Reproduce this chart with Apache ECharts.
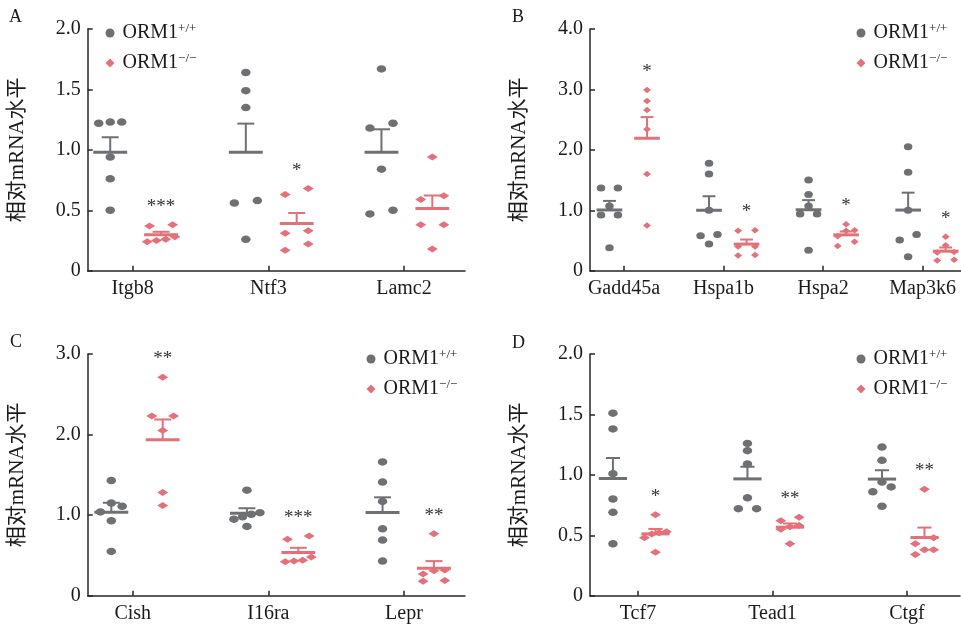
<!DOCTYPE html>
<html>
<head>
<meta charset="utf-8">
<script src="https://cdn.jsdelivr.net/npm/echarts@6/dist/echarts.min.js"></script>
<style>
html, body { margin: 0; padding: 0; background: #fff; }
#main { width: 961px; height: 628px; }
</style>
</head>
<body>
<div id="main"></div>
<script>
// 各基因的相对 mRNA 水平（每组 6 只小鼠）
var genesA = ['Itgb8', 'Ntf3', 'Lamc2'];
var wtA = [[1.23, 1.22, 1.23, 0.94, 0.76, 0.50], [1.64, 1.49, 1.35, 0.58, 0.56, 0.26], [1.67, 1.22, 1.18, 0.84, 0.47, 0.50]];
var koA = [[0.38, 0.37, 0.28, 0.26, 0.25, 0.24], [0.68, 0.63, 0.33, 0.31, 0.22, 0.17], [0.94, 0.62, 0.59, 0.38, 0.38, 0.18]];
var sigA = ['***', '*', ''];

var genesB = ['Gadd45a', 'Hspa1b', 'Hspa2', 'Map3k6'];
var wtB = [[1.37, 1.37, 1.07, 0.92, 0.92, 0.38], [1.78, 1.60, 1.00, 0.60, 0.58, 0.44], [1.50, 1.26, 1.07, 0.94, 0.94, 0.34], [2.05, 1.63, 1.00, 0.60, 0.51, 0.23]];
var koB = [[2.99, 2.81, 2.66, 2.34, 1.60, 0.75], [0.67, 0.66, 0.40, 0.40, 0.26, 0.25], [0.77, 0.67, 0.66, 0.57, 0.48, 0.41], [0.56, 0.42, 0.31, 0.30, 0.18, 0.17]];
var sigB = ['*', '*', '*', '*'];

var genesC = ['Cish', 'I16ra', 'Lepr'];
var wtC = [[1.43, 1.15, 1.11, 1.04, 0.93, 0.55], [1.31, 1.03, 1.01, 0.98, 0.95, 0.86], [1.66, 1.41, 1.17, 0.83, 0.69, 0.43]];
var koC = [[2.71, 2.23, 2.23, 2.05, 1.28, 1.12], [0.74, 0.70, 0.48, 0.44, 0.43, 0.42], [0.77, 0.32, 0.31, 0.27, 0.19, 0.18]];
var sigC = ['**', '***', '**'];

var genesD = ['Tcf7', 'Tead1', 'Ctgf'];
var wtD = [[1.51, 1.38, 1.01, 0.80, 0.69, 0.43], [1.26, 1.20, 1.09, 0.81, 0.72, 0.72], [1.23, 1.12, 0.94, 0.90, 0.86, 0.74]];
var koD = [[0.67, 0.53, 0.52, 0.51, 0.48, 0.36], [0.65, 0.62, 0.58, 0.57, 0.55, 0.43], [0.88, 0.48, 0.43, 0.38, 0.38, 0.34]];
var sigD = ['*', '**', '**'];

var GRAY = '#6f7073';
var RED = '#e4717a';
var AX = '#262626';
var TXT = '#1a1a1a';
var SERIF = "'Liberation Serif', 'Times New Roman', serif";
var SERIF_CJK = "'Liberation Serif', 'Noto Sans CJK SC', serif";

// 版面设置（与数据分开）
var panels = [
	{ letter: 'A', genes: genesA, wt: wtA, ko: koA, sig: sigA, left: 87.7, top: 29, width: 377.3, height: 241.7,
		xMin: 0.668, xMax: 3.45, yMax: 2, yInt: 0.5, wtOff: -0.166, koOff: 0.209, step: 0.085, meanW: 0.25,
		dot: [9.5, 7.5], dia: [11, 7], legLeft: 105.5, legTop: 22, letLeft: 9, letTop: 8 },
	{ letter: 'B', genes: genesB, wt: wtB, ko: koB, sig: sigB, left: 590, top: 29, width: 371, height: 241.7,
		xMin: 0.6585, xMax: 4.385, yMax: 4, yInt: 1, wtOff: -0.146, koOff: 0.231, step: 0.085, meanW: 0.258,
		dot: [8.5, 7], dia: [8, 6.5], legLeft: 856.5, legTop: 22, letLeft: 512, letTop: 8 },
	{ letter: 'C', genes: genesC, wt: wtC, ko: koC, sig: sigC, left: 87.7, top: 354, width: 377.3, height: 241.7,
		xMin: 0.668, xMax: 3.45, yMax: 3, yInt: 1, wtOff: -0.158, koOff: 0.221, step: 0.08, meanW: 0.25,
		dot: [9.5, 7.5], dia: [11, 7], legLeft: 366.5, legTop: 348, letLeft: 10, letTop: 333 },
	{ letter: 'D', genes: genesD, wt: wtD, ko: koD, sig: sigD, left: 590, top: 354, width: 370, height: 241.7,
		xMin: 0.6435, xMax: 3.394, yMax: 2, yInt: 0.5, wtOff: -0.186, koOff: 0.13, step: 0.068, meanW: 0.21,
		dot: [9.5, 7.5], dia: [11, 7], legLeft: 856.5, legTop: 348, letLeft: 512, letTop: 334 }
];

function mean(a) {
	var s = 0;
	for (var i = 0; i < a.length; i++) s += a[i];
	return s / a.length;
}
function sem(a) {
	var m = mean(a), s = 0;
	for (var i = 0; i < a.length; i++) s += (a[i] - m) * (a[i] - m);
	return Math.sqrt(s / (a.length - 1)) / Math.sqrt(a.length);
}

// 数值相近的点排成一行，左右错开
function swarm(vals, pxPerUnit, step) {
	var idx = vals.map(function(v, i) { return i; }).sort(function(a, b) { return vals[a] - vals[b]; });
	var off = [];
	var row = [];
	function flush() {
		var n = row.length;
		row.forEach(function(k, j) {
			if (n === 1) off[k] = 0;
			else if (n <= 3) off[k] = -step + j * 2 * step / (n - 1);
			else off[k] = (j - (n - 1) / 2) * step * 0.8;
		});
		row = [];
	}
	idx.forEach(function(k) {
		if (row.length && (vals[k] - vals[row[0]]) * pxPerUnit >= 7) flush();
		row.push(k);
	});
	flush();
	return off;
}

function meanRender(p, color) {
	return function(params, api) {
		var x = api.value(0), m = api.value(1), se = api.value(2);
		var c = api.coord([x, m]);
		var t = api.coord([x, m + se]);
		var half = api.size([p.meanW, 0])[0] / 2;
		return {
			type: 'group',
			children: [
				{ type: 'line', shape: { x1: c[0] - half, y1: c[1], x2: c[0] + half, y2: c[1] }, style: { stroke: color, lineWidth: 3 } },
				{ type: 'line', shape: { x1: c[0], y1: c[1], x2: c[0], y2: t[1] }, style: { stroke: color, lineWidth: 2 } },
				{ type: 'line', shape: { x1: c[0] - half / 2, y1: t[1], x2: c[0] + half / 2, y2: t[1] }, style: { stroke: color, lineWidth: 2 } }
			]
		};
	};
}

function starRender(p) {
	return function(params, api) {
		var c = api.coord([api.value(0), api.value(1)]);
		return {
			type: 'text',
			x: c[0],
			y: c[1] - 18,
			style: { text: p.sig[params.dataIndex], fontSize: 19, fontFamily: SERIF, fill: '#333', align: 'center', verticalAlign: 'middle' }
		};
	};
}

var option = {
	animation: false,
	backgroundColor: '#fff',
	title: [],
	legend: [],
	grid: [],
	xAxis: [],
	yAxis: [],
	series: []
};

panels.forEach(function(p, gi) {
	var n = p.genes.length;
	var ticks = [];
	for (var i = 1; i <= n; i++) ticks.push(i);
	var pxPerUnit = p.height / p.yMax;

	option.title.push({
		text: p.letter, left: p.letLeft, top: p.letTop, padding: 0,
		textStyle: { fontSize: 18, fontWeight: 'normal', fontFamily: SERIF, color: TXT }
	});
	option.legend.push({
		left: p.legLeft, top: p.legTop, orient: 'vertical', padding: 0,
		itemWidth: 9, itemHeight: 9, itemGap: 9, selectedMode: false,
		data: [
			{ name: 'wt', icon: 'circle', itemStyle: { color: GRAY } },
			{ name: 'ko', icon: 'diamond', itemStyle: { color: RED } }
		],
		formatter: function(name) {
			return name === 'wt' ? '{a|ORM1}{s|+/+}' : '{a|ORM1}{s|\u2212/\u2212}';
		},
		textStyle: {
			rich: {
				a: { fontSize: 20, fontFamily: SERIF, color: TXT, lineHeight: 22, padding: [0, 0, 0, 3] },
				s: { fontSize: 13, fontFamily: SERIF, color: TXT, verticalAlign: 'top' }
			}
		}
	});
	option.grid.push({ left: p.left, top: p.top, width: p.width, height: p.height });
	option.xAxis.push({
		gridIndex: gi, type: 'value', min: p.xMin, max: p.xMax,
		axisLine: { show: true, onZero: false, lineStyle: { color: AX, width: 1.5 } },
		axisTick: { show: true, inside: true, length: 5, customValues: ticks, lineStyle: { color: AX, width: 1.5 } },
		axisLabel: {
			customValues: ticks, margin: 8, fontSize: 20, fontFamily: SERIF, color: TXT,
			formatter: function(v) { return p.genes[Math.round(v) - 1]; }
		},
		splitLine: { show: false }
	});
	option.yAxis.push({
		gridIndex: gi, type: 'value', min: 0, max: p.yMax, interval: p.yInt,
		name: '相对mRNA水平', nameLocation: 'middle', nameGap: 60,
		nameTextStyle: { fontSize: 21, fontFamily: SERIF_CJK, color: TXT },
		axisLine: { show: true, lineStyle: { color: AX, width: 1.5 } },
		axisTick: { show: true, inside: true, length: 5, lineStyle: { color: AX, width: 1.5 } },
		axisLabel: {
			margin: 7, fontSize: 20, fontFamily: SERIF, color: TXT,
			formatter: function(v) { return v === 0 ? '0' : v.toFixed(1); }
		},
		splitLine: { show: false }
	});

	var groups = [
		{ name: 'wt', vals: p.wt, off: p.wtOff, color: GRAY, symbol: 'circle', size: p.dot },
		{ name: 'ko', vals: p.ko, off: p.koOff, color: RED, symbol: 'diamond', size: p.dia }
	];
	groups.forEach(function(g) {
		var pts = [], stats = [];
		g.vals.forEach(function(vals, k) {
			var cx = k + 1 + g.off;
			var jit = swarm(vals, pxPerUnit, p.step);
			vals.forEach(function(v, j) { pts.push([cx + jit[j], v]); });
			stats.push([cx, mean(vals), sem(vals)]);
		});
		option.series.push({
			name: g.name, type: 'scatter', xAxisIndex: gi, yAxisIndex: gi,
			symbol: g.symbol, symbolSize: g.size, itemStyle: { color: g.color, opacity: 1 },
			data: pts, z: 2, silent: true
		});
		option.series.push({
			name: g.name + 'Mean', type: 'custom', xAxisIndex: gi, yAxisIndex: gi,
			renderItem: meanRender(p, g.color), data: stats, z: 3, silent: true
		});
		if (g.name === 'ko') {
			option.series.push({
				name: 'sig', type: 'custom', xAxisIndex: gi, yAxisIndex: gi,
				renderItem: starRender(p),
				data: g.vals.map(function(vals, k) { return [k + 1 + g.off, Math.max.apply(null, vals)]; }),
				z: 4, silent: true
			});
		}
	});
});

var myChart = echarts.init(document.getElementById('main'));
myChart.setOption(option);
</script>
</body>
</html>
